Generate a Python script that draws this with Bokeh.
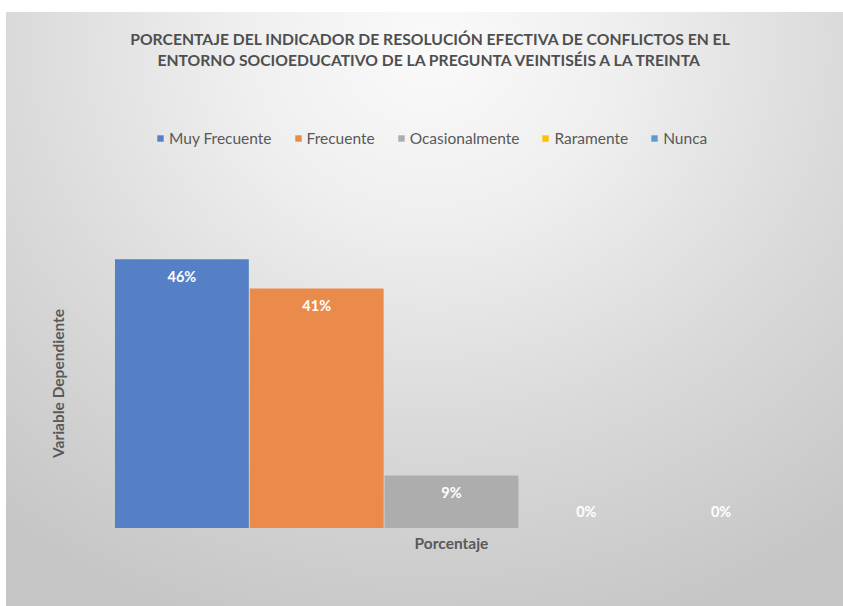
import math
from bokeh.plotting import figure
from bokeh.models import Range1d, Label, Legend, LegendItem, ColumnDataSource
from bokeh.core.properties import value
from bokeh.embed import file_html
from bokeh.resources import INLINE

# ---- data ----
title_lines = [
    "PORCENTAJE DEL INDICADOR DE RESOLUCIÓN EFECTIVA DE CONFLICTOS EN EL",
    "ENTORNO SOCIOEDUCATIVO DE LA PREGUNTA VEINTISÉIS A LA TREINTA",
]
categories = ["Muy Frecuente", "Frecuente", "Ocasionalmente", "Raramente", "Nunca"]
percentages = [46, 41, 9, 0, 0]
bar_colors = ["#5580C6", "#EB8B4B", "#ADADAD", "#FFC000", "#5B9BD5"]
x_axis_title = "Porcentaje"
y_axis_title = "Variable Dependiente"

TEXT = "#595959"
TITLE_COLOR = "#4f4f4f"
FONT = "Lato"

# ---- layout (pixels) ----
W, H = 843, 606
bars_left, bars_right = 114, 788      # horizontal extent of the bar group
base_y, px_per_pct = 527.5, 5.84       # baseline and vertical scale

n = len(categories)
unit = (bars_right - bars_left) / n
x0 = -0.5 - bars_left / unit
y0 = -(H - base_y) / px_per_pct

src = ColumnDataSource(dict(
    x=list(range(n)),
    value=percentages,
    color=bar_colors,
    label=[f"{v}%" for v in percentages],
    yoff=[17 if v > 0 else -17 for v in percentages],
))

p = figure(width=W, height=H, output_backend="svg", toolbar_location=None,
           title=None, x_axis_location=None, y_axis_location=None,
           x_range=Range1d(x0, x0 + W / unit),
           y_range=Range1d(y0, y0 + H / px_per_pct),
           min_border=0)

p.styles = {
    "background": (
        "linear-gradient(#ffffff, #ffffff) left top / 100% 12px no-repeat, "
        "linear-gradient(#ffffff, #ffffff) left top / 6px 100% no-repeat, "
        "radial-gradient(ellipse 80% 100% at 51% 8%, #fafafa 0%, #efefef 28%, "
        "#dadada 62%, #c6c6c6 100%)"
    )
}
p.border_fill_alpha = 0
p.background_fill_alpha = 0
p.outline_line_color = None
p.grid.grid_line_color = None

r = p.vbar(x="x", top="value", width=0.993, bottom=0, source=src,
           fill_color="color", line_color=None)

p.text(x="x", y="value", text="label", source=src, y_offset="yoff",
       text_align="center", text_baseline="middle", text_color="white",
       text_font=value(FONT), text_font_style="bold", text_font_size="14.5px")

items = [LegendItem(label=c, renderers=[r], index=i) for i, c in enumerate(categories)]
legend = Legend(items=items, orientation="horizontal", location=(156, H - 147),
                glyph_width=8, glyph_height=8, label_standoff=5, spacing=22,
                padding=0, margin=0, label_height=18,
                label_text_font=FONT, label_text_font_size="15.5px", label_text_color=TEXT,
                background_fill_alpha=0, border_line_alpha=0)
p.add_layout(legend)

for txt, yy in zip(title_lines, [38, 59]):
    p.add_layout(Label(x=430, y=H - yy, x_units="screen", y_units="screen", text=txt,
                       text_align="center", text_baseline="middle",
                       text_font=FONT, text_font_style="bold", text_font_size="15.7px",
                       text_color=TITLE_COLOR))

p.add_layout(Label(x=451, y=H - 542, x_units="screen", y_units="screen", text=x_axis_title,
                   text_align="center", text_baseline="middle",
                   text_font=FONT, text_font_style="bold", text_font_size="15.5px",
                   text_color=TEXT))
p.add_layout(Label(x=57, y=H - 383, x_units="screen", y_units="screen", text=y_axis_title,
                   angle=math.pi / 2, text_align="center", text_baseline="middle",
                   text_font=FONT, text_font_style="bold", text_font_size="15.5px",
                   text_color=TEXT))

open("out.html", "w").write(file_html(p, INLINE))
